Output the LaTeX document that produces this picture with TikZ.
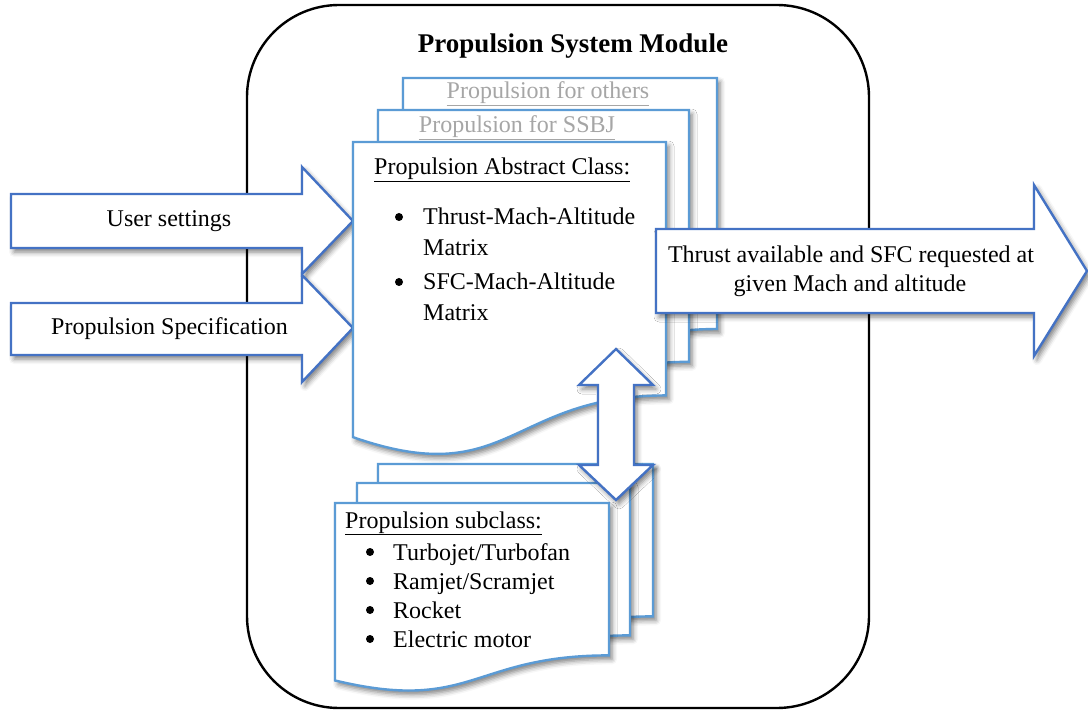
\documentclass[tikz,border=0pt]{standalone}
\usepackage{fontspec}
\setmainfont{Liberation Serif}
\usetikzlibrary{shadows.blur}

\definecolor{pageblue}{HTML}{5B9BD5}
\definecolor{arrowblue}{HTML}{4472C4}
\definecolor{faded}{HTML}{A6A6A6}

\tikzset{
  softshadow/.style={blur shadow={shadow xshift=3pt, shadow yshift=-4pt,
      shadow blur radius=5pt, shadow opacity=50}},
  docpage/.style={draw=pageblue, line width=2.4pt, fill=white, softshadow},
  blockarrow/.style={draw=arrowblue, line width=2.4pt, fill=white, line join=miter, softshadow},
  txt/.style={font=\fontsize{24}{28}\selectfont, inner sep=0pt, anchor=base},
  lefttxt/.style={txt, anchor=base west},
  dot/.style={circle, fill=black, inner sep=0pt, minimum size=8pt},
}

% document page with a wavy lower edge: name, left, top, width, height
\newcommand\DocPage[5]{%
  \pgfmathsetmacro\pgDocR{#3+0.802*#5}%
  \pgfmathsetmacro\pgDocL{#3+0.934*#5}%
  \pgfmathsetmacro\pgDocC{#3+1.107*#5}%
  \pgfmathsetmacro\pgDocM{#2+0.5*#4}%
  \pgfmathsetmacro\pgDocX{#2+#4}%
  \draw[docpage] (#2,#3) -- (\pgDocX,#3) -- (\pgDocX,\pgDocR)
    .. controls (\pgDocM,\pgDocR) and (\pgDocM,\pgDocC) .. (#2,\pgDocL) -- cycle;
  \coordinate (#1) at (#2,#3);
}

\begin{document}
\begin{tikzpicture}[x=1pt,y=-1pt]
\useasboundingbox (0,0) rectangle (1088,711);

% module frame
\node[draw=black, line width=2.4pt, rounded corners=92pt, minimum width=622pt,
      minimum height=703pt, inner sep=0pt] (module) at (558,356.5) {};
\node[txt, font=\fontsize{27}{30}\selectfont\bfseries] (title) at (573,53) {Propulsion System Module};

% inputs
\draw[blockarrow] (11,194) -- (302,194) -- (302,167) -- (353,221) -- (302,274)
  -- (302,248) -- (11,248) -- cycle;
\node[txt] (user) at (169,227) {User settings};
\draw[blockarrow] (11,303) -- (302,303) -- (302,275) -- (353,328) -- (302,382)
  -- (302,355) -- (11,355) -- cycle;
\node[txt] (spec) at (169.5,335) {Propulsion Specification};

% abstract class pages
\DocPage{others}{403}{78}{314}{313}
\node[txt, text=faded] (othersT) at (548,99) {\underline{Propulsion for others}};
\DocPage{ssbj}{378}{110}{311}{314}
\node[txt, text=faded] (ssbjT) at (517,133) {\underline{Propulsion for SSBJ}};
\DocPage{abstract}{353}{142}{313}{316}
\node[lefttxt] (absT) at (374,175) {\underline{Propulsion Abstract Class:}};
\node[dot] (b1) at (399,217) {};
\node[lefttxt] (i1) at (423,225) {Thrust-Mach-Altitude};
\node[lefttxt] (i1b) at (423,256) {Matrix};
\node[dot] (b2) at (399,282) {};
\node[lefttxt] (i2) at (423,290) {SFC-Mach-Altitude};
\node[lefttxt] (i2b) at (423,321) {Matrix};

% subclass pages
\DocPage{subC}{378}{464}{275}{190}
\DocPage{subB}{357}{483}{273}{190}
\DocPage{subA}{335}{503}{274}{190}
\node[lefttxt] (subT) at (345,528) {\underline{Propulsion subclass:}};
\node[dot] (s1b) at (370,552) {};
\node[lefttxt] (s1) at (393,560) {Turbojet/Turbofan};
\node[dot] (s2b) at (370,581) {};
\node[lefttxt] (s2) at (393,589) {Ramjet/Scramjet};
\node[dot] (s3b) at (370,610) {};
\node[lefttxt] (s3) at (393,618) {Rocket};
\node[dot] (s4b) at (370,639) {};
\node[lefttxt] (s4) at (393,647) {Electric motor};

% link between abstract class and subclasses
\draw[blockarrow] (616,349) -- (653,385) -- (634,385) -- (634,465) -- (653,465)
  -- (616,500) -- (579,465) -- (598,465) -- (598,385) -- (579,385) -- cycle;

% output
\draw[blockarrow] (656,229) -- (1034,229) -- (1034,185) -- (1087,271) -- (1034,356)
  -- (1034,313) -- (656,313) -- cycle;
\node[txt] (outA) at (851,263) {Thrust available and SFC requested at};
\node[txt] (outB) at (850,292) {given Mach and altitude};
\end{tikzpicture}
\end{document}
